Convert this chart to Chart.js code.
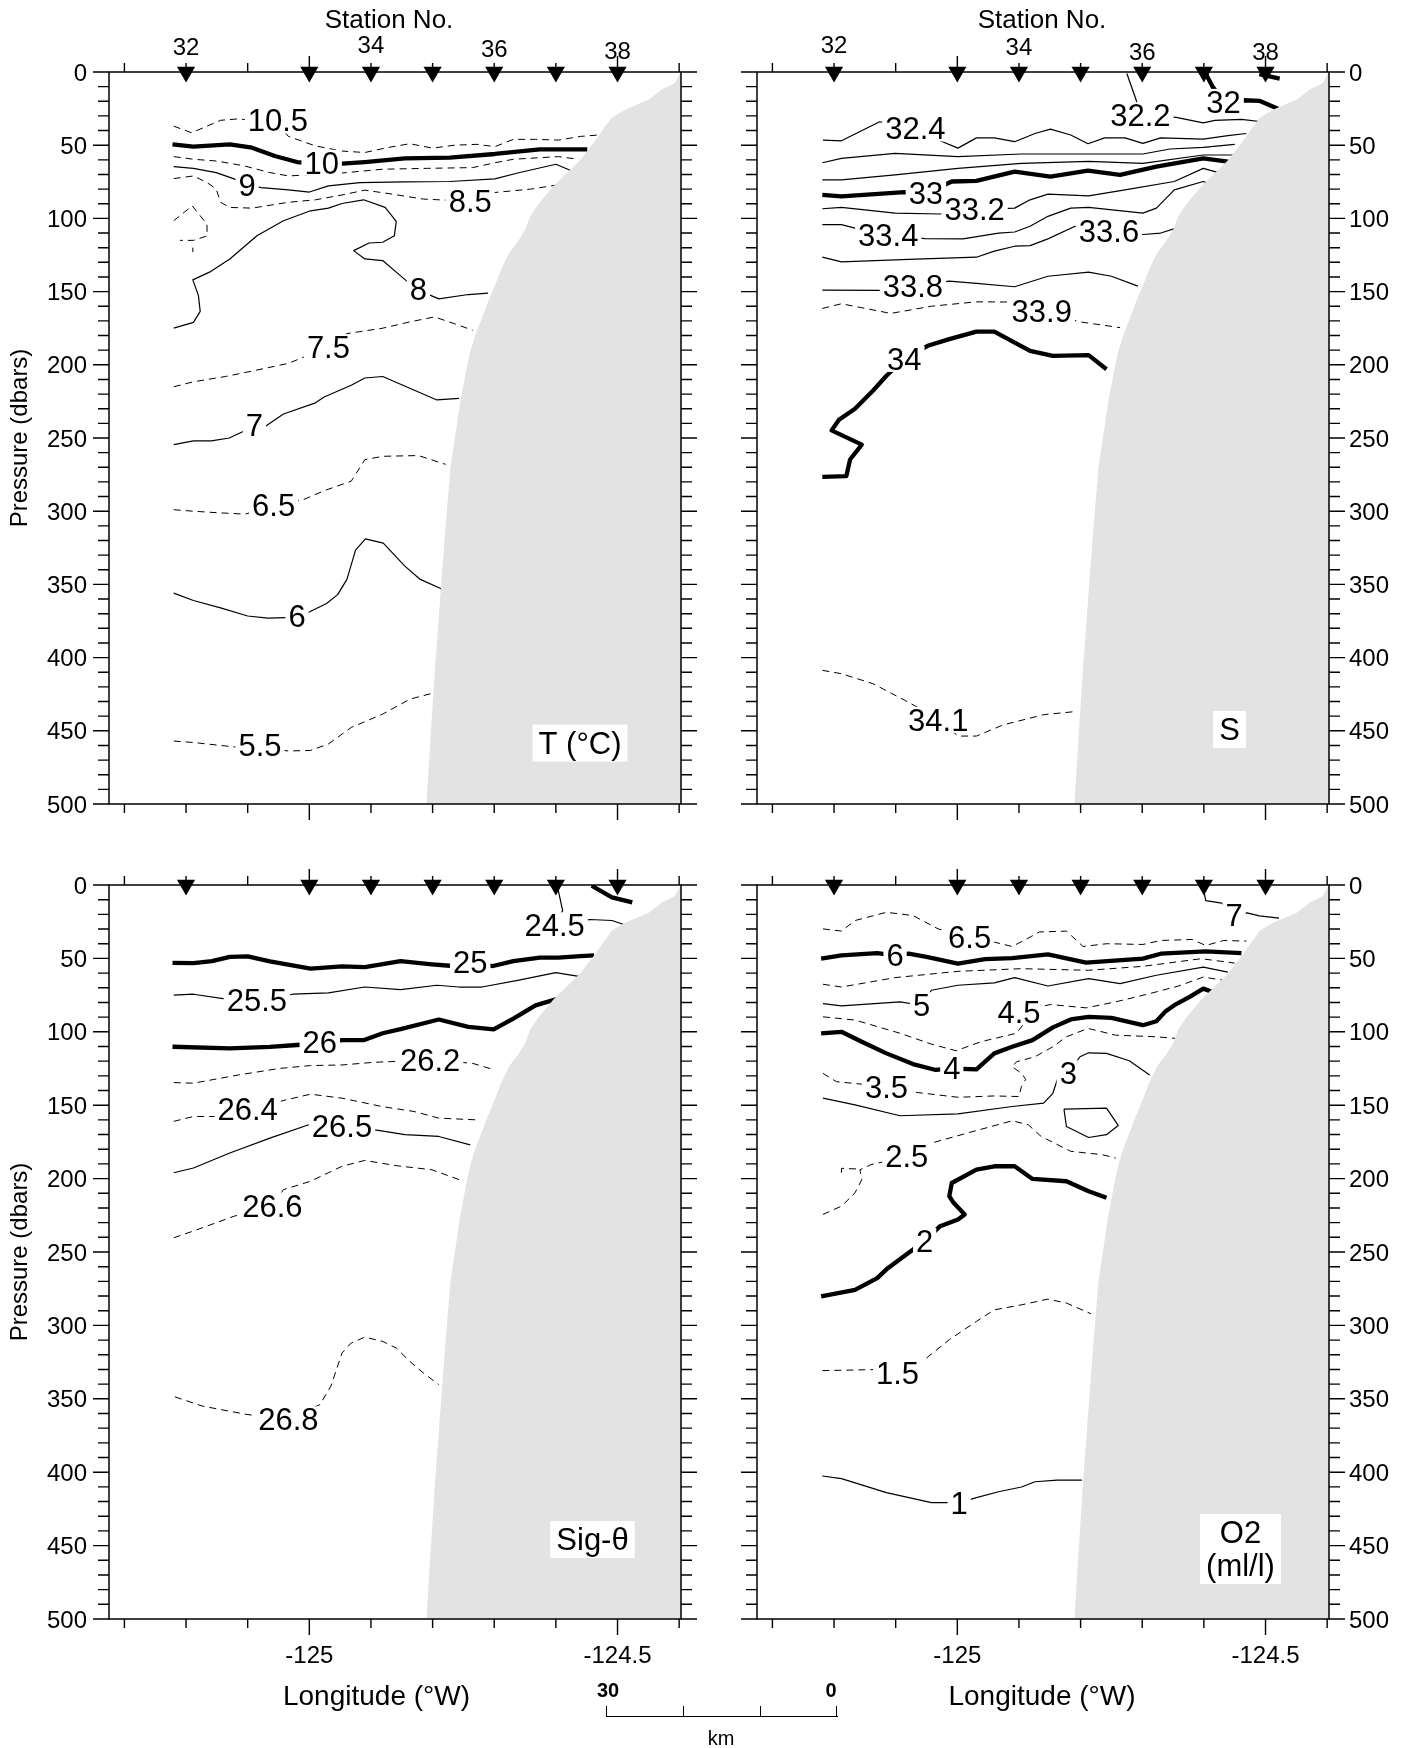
<!DOCTYPE html>
<html>
<head>
<meta charset="utf-8">
<title>Hydrographic section</title>
<script src="https://cdn.jsdelivr.net/npm/chart.js@4.4.1/dist/chart.umd.min.js"></script>
<style>
  body { margin: 0; background: #fff; width: 1411px; height: 1748px; position: relative; overflow: hidden;
         font-family: "Liberation Sans", Arial, Helvetica, sans-serif; }
  canvas { position: absolute; }
  .ln { position: absolute; background: #000; }
  .tx { position: absolute; transform: translate(-50%, -50%); line-height: 1; white-space: nowrap; }
</style>
</head>
<body>
<canvas id="cTemp" width="718" height="845" style="left:0;top:0"></canvas>
<canvas id="cSal"  width="693" height="845" style="left:718px;top:0"></canvas>
<canvas id="cSig"  width="718" height="903" style="left:0;top:845px"></canvas>
<canvas id="cOxy"  width="693" height="903" style="left:718px;top:845px"></canvas>

<!-- km scale bar -->
<div class="tx" style="left:608px;top:1690px;font-weight:bold;font-size:20px">30</div>
<div class="tx" style="left:831px;top:1690px;font-weight:bold;font-size:20px">0</div>
<div class="ln" style="left:606px;top:1716px;width:232px;height:1.4px"></div>
<div class="ln" style="left:606px;top:1706px;width:1.4px;height:11px"></div>
<div class="ln" style="left:683px;top:1706px;width:1.4px;height:11px"></div>
<div class="ln" style="left:760px;top:1706px;width:1.4px;height:11px"></div>
<div class="ln" style="left:836px;top:1706px;width:1.4px;height:11px"></div>
<div class="tx" style="left:721px;top:1738px;font-size:20px">km</div>

<script>
const FONT = '"Liberation Sans", Arial, Helvetica, sans-serif';

// ── Axes ─────────────────────────────────────
const LON_MIN = -125.325, LON_MAX = -124.397;
const lonTicks = [-125.3, -125.2, -125.1, -125.0, -124.9, -124.8, -124.7, -124.6, -124.5, -124.4];
const lonMajor = [-125.0, -124.5];
const lonMajorText = ['-125', '-124.5'];
const pressureTicks = [0, 50, 100, 150, 200, 250, 300, 350, 400, 450, 500];

// ── Stations ─────────────────────────────────
const stationLon = [-125.2, -125.0, -124.9, -124.8, -124.7, -124.6, -124.5];
const stationLabelLon = [-125.2, -124.9, -124.7, -124.5];
const stationLabelText = ['32', '34', '36', '38'];

// ── Bottom (shelf / slope), lon vs dbar ──────
const bottomProfile = [
  [-124.81, 500], [-124.803, 452], [-124.796, 407], [-124.788, 361], [-124.78, 316], [-124.771, 270],
  [-124.755, 225], [-124.747, 207], [-124.739, 191], [-124.731, 180], [-124.72, 168], [-124.71, 157],
  [-124.699, 146], [-124.688, 134], [-124.675, 123], [-124.662, 116], [-124.65, 108], [-124.641, 98],
  [-124.626, 89], [-124.604, 78], [-124.582, 69], [-124.56, 60], [-124.538, 48], [-124.523, 39],
  [-124.509, 31], [-124.487, 25.6], [-124.45, 19], [-124.428, 12], [-124.407, 7.5], [-124.399, 1],
  [-124.397, 0]
];

// ── Temperature (°C) ─────────────────────────
const tempContours = [
  { level: '10.5', pts: [[-125.22,37],[-125.191,41.5],[-125.166,37],[-125.144,33],[-125.115,32],[-125.051,35],[-125.034,44],[-124.99,50.5],[-124.947,54],[-124.91,55],[-124.874,51.7],[-124.837,49],[-124.8,52],[-124.764,50],[-124.728,49.4],[-124.699,51],[-124.669,46],[-124.633,46],[-124.596,46.5],[-124.56,44],[-124.53,43]] },
  { level: '10', pts: [[-125.222,49.4],[-125.188,51],[-125.129,49.4],[-125.093,51.7],[-125.056,57.4],[-125.02,61.5],[-124.98,63],[-124.947,62.6],[-124.91,61.5],[-124.845,59],[-124.772,58.5],[-124.699,56],[-124.626,52.8],[-124.549,52.8]] },
  { level: '9.5', pts: [[-125.22,57.8],[-125.188,59.6],[-125.151,60.8],[-125.107,64],[-125.064,68.7],[-125.034,71],[-124.99,70],[-124.947,69],[-124.881,66.4],[-124.808,65.8],[-124.735,65.3],[-124.699,62],[-124.669,59.6],[-124.596,57.8],[-124.563,59.6]] },
  { level: '9', pts: [[-125.22,64.6],[-125.188,65.8],[-125.151,68.7],[-125.122,73],[-125.101,77],[-125.078,79],[-125.034,80.5],[-125.0,82],[-124.969,77.8],[-124.918,75.5],[-124.845,75],[-124.772,74.8],[-124.699,73],[-124.662,69],[-124.6,63],[-124.574,67.6]] },
  { level: '8.5', pts: [[-125.22,72.8],[-125.188,71],[-125.166,75.5],[-125.151,80],[-125.144,89],[-125.129,92.5],[-125.093,93],[-125.034,89],[-124.99,87.3],[-124.947,84],[-124.91,80.7],[-124.866,83.4],[-124.815,86.8],[-124.779,87.5],[-124.739,88],[-124.699,82.3],[-124.641,80],[-124.6,77.3]] },
  { level: '8.5', pts: [[-125.22,101.6],[-125.19,91.4],[-125.166,104],[-125.166,112],[-125.188,115],[-125.21,115]] },
  { level: '8.5', pts: [[-125.189,120],[-125.189,123]] },
  { level: '8', pts: [[-125.22,175],[-125.188,171],[-125.177,163.5],[-125.18,152.6],[-125.189,142],[-125.162,136.7],[-125.129,127.7],[-125.085,111.8],[-125.042,101.6],[-124.998,94.8],[-124.969,93],[-124.947,89.8],[-124.912,87.3],[-124.877,92.5],[-124.859,102],[-124.862,111.8],[-124.881,116.3],[-124.903,116.8],[-124.928,122],[-124.91,127.7],[-124.881,128.8],[-124.859,136.7],[-124.84,143.5],[-124.823,149],[-124.79,155],[-124.742,152],[-124.71,151]] },
  { level: '7.5', pts: [[-125.22,215],[-125.188,211.6],[-125.136,208],[-125.085,203.6],[-125.034,199],[-124.969,188],[-124.939,178.7],[-124.881,175],[-124.837,170.7],[-124.797,167.3],[-124.764,172],[-124.735,176.4]] },
  { level: '7', pts: [[-125.22,254.5],[-125.188,252],[-125.159,252],[-125.13,250],[-125.089,242],[-125.071,242],[-125.042,233.6],[-124.99,226],[-124.976,222],[-124.932,214],[-124.91,209],[-124.881,208],[-124.837,216],[-124.793,224],[-124.757,223]] },
  { level: '6.5', pts: [[-125.22,299],[-125.188,300],[-125.151,301],[-125.104,302],[-125.058,296.6],[-125.009,292],[-124.976,286],[-124.932,279.5],[-124.91,264.8],[-124.881,262.5],[-124.823,262],[-124.779,268]] },
  { level: '6', pts: [[-125.22,356],[-125.188,361],[-125.144,366],[-125.1,371.6],[-125.067,373],[-125.038,372.7],[-125.02,372.7],[-125.001,369],[-124.972,363],[-124.954,357],[-124.939,346.6],[-124.925,326.6],[-124.909,318.9],[-124.88,321.8],[-124.845,337.5],[-124.82,346.6],[-124.786,353]] },
  { level: '5.5', pts: [[-125.22,457],[-125.188,458],[-125.122,461],[-125.08,461.4],[-125.034,463.8],[-124.998,463.4],[-124.969,459],[-124.932,447.7],[-124.881,438.6],[-124.837,428.4],[-124.797,424]] }
];
const tempLabels = [
  ['10.5', -125.051, 33], ['10', -124.98, 62], ['9', -125.101, 77], ['8.5', -124.739, 88],
  ['8', -124.823, 148], ['7.5', -124.969, 188], ['7', -125.089, 241], ['6.5', -125.058, 295.5],
  ['6', -125.02, 371.5], ['5.5', -125.08, 460]
];

// ── Salinity ─────────────────────────────────
const salContours = [
  { level: '32.2', pts: [[-124.725,1],[-124.71,19],[-124.703,29.5],[-124.645,31],[-124.601,34.7],[-124.582,33],[-124.539,32.4],[-124.506,34]] },
  { level: '32', pts: [[-124.597,1],[-124.586,10],[-124.568,20.4],[-124.535,19.3],[-124.51,19.7],[-124.477,25.6]] },
  { level: '32', pts: [[-124.51,1.5],[-124.477,4.5]] },
  { level: '32.4', pts: [[-125.218,46.5],[-125.188,47],[-125.126,34],[-125.068,38.5],[-125.024,47.6],[-124.999,52],[-124.969,45],[-124.94,45],[-124.907,47.6],[-124.874,42],[-124.849,39],[-124.816,43],[-124.788,49],[-124.761,45],[-124.728,45],[-124.699,48.8],[-124.67,45],[-124.601,45.8],[-124.561,43.5],[-124.531,42]] },
  { level: '32.6', pts: [[-125.219,62],[-125.188,59],[-125.101,55.6],[-124.999,57.8],[-124.896,56],[-124.787,56],[-124.699,56],[-124.655,52.6],[-124.601,51.5],[-124.55,49.4]] },
  { level: '32.8', pts: [[-125.219,73.7],[-125.188,73.7],[-125.101,70.3],[-124.999,65.8],[-124.896,62.4],[-124.787,61],[-124.699,62.4],[-124.601,56.7],[-124.553,56.7]] },
  { level: '33', pts: [[-125.219,84],[-125.188,85],[-125.086,82],[-125.051,83],[-125.009,74.8],[-124.969,74.4],[-124.907,68],[-124.849,71.4],[-124.788,67.3],[-124.736,70.3],[-124.677,64.6],[-124.601,59],[-124.561,61.2]] },
  { level: '33.2', pts: [[-125.219,93.4],[-125.188,92.5],[-125.101,96.4],[-125.028,97],[-124.97,94],[-124.907,93],[-124.882,87.3],[-124.853,83.4],[-124.787,84.6],[-124.728,80.5],[-124.648,74.8],[-124.601,65.8],[-124.572,69.2]] },
  { level: '33.4', pts: [[-125.219,104.3],[-125.188,104.3],[-125.166,106.6],[-125.112,111],[-125.053,113.8],[-124.991,114],[-124.933,110],[-124.907,109.3],[-124.882,105.4],[-124.853,98.6],[-124.816,93],[-124.787,92.5],[-124.699,96.4],[-124.677,93],[-124.648,80.5],[-124.601,74.8],[-124.586,77]] },
  { level: '33.6', pts: [[-125.219,126.5],[-125.188,129.7],[-125.079,128],[-124.969,126.5],[-124.94,122.4],[-124.907,119],[-124.882,118.6],[-124.853,114],[-124.809,105.4],[-124.754,108.8],[-124.699,111],[-124.67,110],[-124.645,106.6]] },
  { level: '33.8', pts: [[-125.219,149],[-125.126,149.2],[-125.072,146.3],[-125.013,142.9],[-124.969,144.4],[-124.907,146.7],[-124.853,139.5],[-124.787,136.7],[-124.75,139.5],[-124.707,146.3]] },
  { level: '33.9', pts: [[-125.219,161.5],[-125.188,158.3],[-125.108,164.9],[-125.042,160],[-124.969,157],[-124.918,157.1],[-124.863,163.5],[-124.801,170.7],[-124.736,174.6]] },
  { level: '34', pts: [[-124.758,203],[-124.787,193.4],[-124.845,193.9],[-124.882,190.5],[-124.94,177.3],[-124.969,177.3],[-125.013,182.5],[-125.048,187],[-125.086,196],[-125.115,207.5],[-125.137,217.7],[-125.166,230],[-125.192,237.5],[-125.204,244.8],[-125.155,254.5],[-125.174,264.7],[-125.18,276],[-125.219,276.5]] },
  { level: '34.1', pts: [[-125.219,408.7],[-125.188,411],[-125.137,417.8],[-125.086,429],[-125.031,441.6],[-124.999,453.6],[-124.969,453.6],[-124.926,446],[-124.86,439],[-124.812,437]] }
];
const salLabels = [
  ['32.2', -124.703, 29.5], ['32', -124.568, 20.4], ['32.4', -125.068, 38.5], ['33', -125.051, 82.5],
  ['33.2', -124.972, 93.5], ['33.4', -125.112, 111.5], ['33.6', -124.754, 108.8], ['33.8', -125.072, 146.3],
  ['33.9', -124.863, 163.5], ['34', -125.086, 196], ['34.1', -125.031, 442.5]
];

// ── Sigma-theta ──────────────────────────────
const sigContours = [
  { level: '24', pts: [[-124.542,0.5],[-124.509,8.4],[-124.476,11.8]] },
  { level: '24.5', pts: [[-124.596,3.8],[-124.589,17.4],[-124.602,28.3],[-124.545,23.5],[-124.509,24.2],[-124.485,27.6]] },
  { level: '25', pts: [[-125.222,53],[-125.188,53.2],[-125.158,51.8],[-125.129,49],[-125.1,48.6],[-125.064,52],[-124.998,57],[-124.947,55.4],[-124.91,55.9],[-124.852,51.8],[-124.801,54],[-124.772,55],[-124.739,53.2],[-124.702,55.2],[-124.669,51.8],[-124.626,49.5],[-124.596,49.5],[-124.56,48.4],[-124.538,48]] },
  { level: '25.5', pts: [[-125.22,75],[-125.188,74.4],[-125.14,77.4],[-125.085,78.5],[-125.027,74.4],[-124.969,73.5],[-124.91,69.5],[-124.852,71.3],[-124.793,68.3],[-124.757,69.5],[-124.72,69.5],[-124.662,65],[-124.6,59.7],[-124.563,62.2]] },
  { level: '26', pts: [[-125.222,110.2],[-125.129,111.3],[-125.064,110.2],[-125.02,109],[-124.983,108],[-124.947,105.7],[-124.912,105.7],[-124.881,101],[-124.852,98.2],[-124.79,91.6],[-124.742,96.6],[-124.701,98.4],[-124.669,91],[-124.633,82],[-124.596,77.4]] },
  { level: '26.2', pts: [[-125.22,134.6],[-125.188,135],[-125.115,129.4],[-125.049,125],[-124.998,123],[-124.947,122.6],[-124.896,120.8],[-124.804,119.2],[-124.735,121.5],[-124.699,126]] },
  { level: '26.4', pts: [[-125.22,161],[-125.188,157.7],[-125.155,157.7],[-125.1,153.2],[-125.038,146.4],[-124.998,142.5],[-124.947,145.2],[-124.881,151],[-124.83,154.3],[-124.79,158.8],[-124.728,160]] },
  { level: '26.5', pts: [[-125.22,196],[-125.188,192.8],[-125.129,182.6],[-125.064,172.4],[-125.001,163.3],[-124.947,164.5],[-124.888,167.2],[-124.845,170.1],[-124.79,171.3],[-124.739,177]] },
  { level: '26.6', pts: [[-125.22,240.3],[-125.188,235.7],[-125.122,225.6],[-125.06,218.8],[-125.042,207.5],[-124.998,201.8],[-124.947,191.6],[-124.91,187.6],[-124.859,191.2],[-124.801,194],[-124.757,200.7]] },
  { level: '26.8', pts: [[-125.218,348.7],[-125.173,355],[-125.101,360.7],[-125.034,364.1],[-124.983,354],[-124.965,341.4],[-124.947,318.8],[-124.932,312],[-124.91,308],[-124.881,310.9],[-124.859,315.4],[-124.837,324.5],[-124.815,332.4],[-124.79,340.3]] }
];
const sigLabels = [
  ['24.5', -124.602, 27.5], ['25', -124.739, 52.5], ['25.5', -125.085, 78], ['26', -124.983, 107],
  ['26.2', -124.804, 119], ['26.4', -125.1, 152.5], ['26.5', -124.947, 164], ['26.6', -125.06, 218.5],
  ['26.8', -125.034, 364]
];

// ── Oxygen (ml/l) ────────────────────────────
const oxyContours = [
  { level: '7', pts: [[-124.599,6],[-124.597,10.6],[-124.571,12.3],[-124.551,20.5],[-124.53,19],[-124.51,21],[-124.478,22.5]] },
  { level: '6.5', pts: [[-125.218,29.9],[-125.188,31.4],[-125.166,24.2],[-125.115,18.6],[-125.072,20.8],[-125.031,29.9],[-124.98,35.5],[-124.94,38.9],[-124.911,41.9],[-124.882,35.5],[-124.867,32],[-124.823,31.4],[-124.796,41.9],[-124.758,40],[-124.699,40.5],[-124.67,37.8],[-124.619,37.1],[-124.597,41.2],[-124.568,37.8],[-124.531,38.2]] },
  { level: '6', pts: [[-125.221,50.2],[-125.188,48],[-125.13,46.4],[-125.101,48],[-125.079,46.8],[-125.05,49],[-124.999,53.6],[-124.955,50.5],[-124.911,49.8],[-124.853,47.3],[-124.791,52.9],[-124.699,50.2],[-124.67,46.8],[-124.597,45.2],[-124.539,46.4]] },
  { level: '5.5', pts: [[-125.218,67.6],[-125.188,69.5],[-125.101,63.1],[-124.999,58.8],[-124.896,57],[-124.787,58.1],[-124.699,55.4],[-124.604,50.2],[-124.55,53.2]] },
  { level: '5', pts: [[-125.218,80.8],[-125.188,82.4],[-125.093,79.6],[-125.058,81.9],[-125.042,71.7],[-124.999,68.3],[-124.94,66.7],[-124.907,63.1],[-124.853,68.8],[-124.787,63.8],[-124.736,67.2],[-124.677,61.5],[-124.601,55.9],[-124.561,59.3]] },
  { level: '4.5', pts: [[-125.218,89.8],[-125.166,92],[-125.093,101],[-125.042,108.4],[-125.002,112.9],[-124.962,106.8],[-124.904,101],[-124.893,95],[-124.9,86.4],[-124.849,81.4],[-124.791,83.7],[-124.743,79.6],[-124.688,74],[-124.641,68.8],[-124.601,62.7],[-124.568,64.9]] },
  { level: '4', pts: [[-125.221,101.1],[-125.188,100],[-125.155,106.8],[-125.115,114.7],[-125.072,122],[-125.035,126],[-125.009,125],[-124.969,125.6],[-124.94,114.7],[-124.911,110.2],[-124.878,105.7],[-124.845,97],[-124.816,91.6],[-124.787,89.8],[-124.75,90.5],[-124.699,95.5],[-124.677,92.8],[-124.663,86.4],[-124.648,81.9],[-124.623,76.2],[-124.601,70.6],[-124.586,72.9]] },
  { level: '3.5', pts: [[-125.218,128.3],[-125.196,134],[-125.115,137.3],[-125.064,141.4],[-124.999,144.6],[-124.94,143.7],[-124.9,144.1],[-124.896,137.3],[-124.889,132.4],[-124.896,128.3],[-124.911,123.8],[-124.904,120.4],[-124.874,117],[-124.845,110.2],[-124.823,103.4],[-124.788,97.7],[-124.743,102.3],[-124.677,103.4],[-124.645,104.5]] },
  { level: '3', pts: [[-125.218,145.2],[-125.166,149.8],[-125.093,157.2],[-124.999,155.9],[-124.911,150.9],[-124.86,148.6],[-124.845,141.9],[-124.838,132.8],[-124.82,128.3],[-124.801,117],[-124.787,114.3],[-124.758,114.7],[-124.721,119.7],[-124.688,129.4]] },
  { level: '3', pts: [[-124.827,152.7],[-124.758,152],[-124.739,163.8],[-124.758,170.1],[-124.787,172],[-124.823,164.5],[-124.827,152.7]] },
  { level: '2.5', pts: [[-125.218,224.4],[-125.188,218.8],[-125.166,209.7],[-125.155,200.7],[-125.158,194],[-125.14,190.5],[-125.082,184.8],[-125.042,175.8],[-124.984,169],[-124.911,160.6],[-124.885,163.3],[-124.864,171.3],[-124.816,181.4],[-124.765,183.7],[-124.743,186]] },
  { level: '2.5', pts: [[-125.188,196],[-125.188,193],[-125.16,193.5]] },
  { level: '2', pts: [[-124.758,213.1],[-124.787,208.6],[-124.823,201.8],[-124.878,200.2],[-124.907,191.6],[-124.94,191.6],[-124.969,193.9],[-125.009,203],[-125.013,212],[-125.006,216.5],[-124.988,224.4],[-124.999,227.8],[-125.028,232.4],[-125.053,242.5],[-125.086,252.7],[-125.115,261.8],[-125.13,267.8],[-125.166,275.8],[-125.221,280.3]] },
  { level: '1.5', pts: [[-125.219,330.8],[-125.134,330.1],[-125.097,332.4],[-125.05,322.2],[-125.013,309.7],[-124.969,297.3],[-124.94,289.4],[-124.896,286],[-124.853,282.1],[-124.823,284.8],[-124.783,292.1]] },
  { level: '1', pts: [[-125.219,402.6],[-125.188,404.4],[-125.115,413.9],[-125.042,420.7],[-124.997,420.7],[-124.969,417.3],[-124.933,413.3],[-124.896,410.1],[-124.874,406.5],[-124.838,405.4],[-124.798,405.4]] }
];
const oxyLabels = [
  ['7', -124.551, 20.5], ['6.5', -124.98, 35.5], ['6', -125.101, 48], ['5', -125.058, 81.9],
  ['4.5', -124.9, 86.4], ['4', -125.009, 124.9], ['3.5', -125.115, 137.3], ['3', -124.82, 128.3],
  ['2.5', -125.082, 184.8], ['2', -125.053, 242.5], ['1.5', -125.097, 332.4], ['1', -124.997, 420.7]
];

// ── Line style per contour level ─────────────
const isHalf = (lv) => Math.abs(parseFloat(lv) * 2 % 2 - 1) < 1e-6;
const isInt  = (lv) => Number.isInteger(parseFloat(lv));
const tempStyle = (lv) => lv === '10' ? 'thick' : (isHalf(lv) ? 'dash' : 'thin');
const salStyle  = (lv) => isInt(lv) ? 'thick' : (['33.9', '34.1'].includes(lv) ? 'dash' : 'thin');
const sigStyle  = (lv) => isInt(lv) ? 'thick' : (isHalf(lv) ? 'thin' : 'dash');
const oxyStyle  = (lv) => isInt(lv) ? (parseFloat(lv) % 2 === 0 ? 'thick' : 'thin') : 'dash';

// ── Frame, ticks and text drawn over the datasets ──
function sectionPlugin(cfg) {
  return {
    id: 'section',
    afterDatasetsDraw(chart) {
      const ctx = chart.ctx, a = chart.chartArea;
      const xs = chart.scales.x, ys = chart.scales.y;
      ctx.save();
      ctx.fillStyle = '#000';
      ctx.strokeStyle = '#000';

      // contour labels (white gap under the number)
      ctx.font = `31px ${FONT}`;
      ctx.textAlign = 'center';
      ctx.textBaseline = 'alphabetic';
      cfg.labels.forEach(([t, lon, p]) => {
        const x = xs.getPixelForValue(lon), y = ys.getPixelForValue(p);
        const w = ctx.measureText(t).width;
        ctx.fillStyle = '#fff';
        ctx.fillRect(x - w / 2 - 3, y - 13, w + 6, 26);
        ctx.fillStyle = '#000';
        ctx.fillText(t, x, y + 11);
      });

      // panel tag
      ctx.font = `31px ${FONT}`;
      const tw = Math.max(...cfg.tag.lines.map(s => ctx.measureText(s).width));
      const th = cfg.tag.lines.length * 33 + 4;
      const tcx = a.right - cfg.tag.dx, tcy = a.bottom - cfg.tag.dy;
      ctx.fillStyle = '#fff';
      ctx.fillRect(tcx - tw / 2 - 6, tcy - th / 2, tw + 12, th);
      ctx.fillStyle = '#000';
      cfg.tag.lines.forEach((s, i) => {
        ctx.fillText(s, tcx, tcy - th / 2 + 2 + 33 * i + 27);
      });

      // frame
      ctx.lineWidth = 1.5;
      ctx.strokeRect(a.left, a.top, a.right - a.left, a.bottom - a.top);

      // ticks
      ctx.lineWidth = 1.4;
      ctx.beginPath();
      for (let p = 0; p <= 500; p += 10) {
        const y = ys.getPixelForValue(p);
        const len = p % 50 === 0 ? 16 : 11;
        ctx.moveTo(a.left - len, y); ctx.lineTo(a.left, y);
        ctx.moveTo(a.right, y); ctx.lineTo(a.right + len, y);
      }
      lonTicks.forEach(lon => {
        const x = xs.getPixelForValue(lon);
        const len = lonMajor.includes(lon) ? 16 : 9;
        ctx.moveTo(x, a.top); ctx.lineTo(x, a.top - len);
        ctx.moveTo(x, a.bottom); ctx.lineTo(x, a.bottom + len);
      });
      ctx.stroke();

      // pressure labels
      ctx.font = `24px ${FONT}`;
      ctx.textAlign = cfg.side === 'left' ? 'right' : 'left';
      pressureTicks.forEach(p => {
        const y = ys.getPixelForValue(p) + 8.5;
        const x = cfg.side === 'left' ? a.left - 22 : a.right + 20;
        ctx.fillText(String(p), x, y);
      });

      // longitude labels and title (bottom row)
      if (cfg.bottomRow) {
        ctx.textAlign = 'center';
        ctx.font = `24px ${FONT}`;
        lonMajor.forEach((lon, i) => ctx.fillText(lonMajorText[i], xs.getPixelForValue(lon), a.bottom + 44));
        ctx.font = `28px ${FONT}`;
        ctx.fillText('Longitude (°W)', (a.left + a.right) / 2 + cfg.titleShift, a.bottom + 86);
      }

      // station numbers (top row)
      if (cfg.topRow) {
        ctx.textAlign = 'center';
        ctx.font = `24px ${FONT}`;
        stationLabelLon.forEach((lon, i) => ctx.fillText(stationLabelText[i], xs.getPixelForValue(lon), cfg.stationBase[i]));
        ctx.font = `26px ${FONT}`;
        ctx.fillText('Station No.', (a.left + a.right) / 2 + cfg.titleShift, 28);
      }

      // pressure title
      if (cfg.side === 'left') {
        ctx.save();
        ctx.translate(27, (a.top + a.bottom) / 2);
        ctx.rotate(-Math.PI / 2);
        ctx.textAlign = 'center';
        ctx.font = `24px ${FONT}`;
        ctx.fillText('Pressure (dbars)', 0, 0);
        ctx.restore();
      }
      ctx.restore();
    }
  };
}

function makeSection(canvasId, cfg) {
  const datasets = [{
    label: 'bottom',
    data: bottomProfile.map(([x, y]) => ({ x, y })),
    showLine: true,
    borderColor: 'rgba(0,0,0,0)',
    borderWidth: 1,
    backgroundColor: '#e3e3e3',
    pointRadius: 0,
    fill: { value: 500 }
  }];
  cfg.contours.forEach(c => {
    const st = cfg.styleOf(c.level);
    datasets.push({
      label: c.level,
      data: c.pts.map(([x, y]) => ({ x, y })),
      showLine: true,
      borderColor: '#000',
      borderWidth: st === 'thick' ? 4.3 : (st === 'dash' ? 1 : 1.2),
      borderDash: st === 'dash' ? [7, 5] : [],
      borderJoinStyle: 'round',
      pointRadius: 0,
      fill: false,
      tension: 0
    });
  });
  datasets.push({
    label: 'stations',
    data: stationLon.map(x => ({ x, y: 0 })),
    showLine: false,
    pointStyle: 'triangle',
    pointRotation: 180,
    pointRadius: 10.5,
    pointBackgroundColor: '#000',
    pointBorderColor: '#000',
    pointBorderWidth: 0,
    clip: false
  });

  return new Chart(document.getElementById(canvasId), {
    type: 'scatter',
    data: { datasets },
    options: {
      responsive: false,
      animation: false,
      devicePixelRatio: 1,
      events: [],
      layout: { padding: cfg.pad },
      scales: {
        x: { type: 'linear', min: LON_MIN, max: LON_MAX, display: false },
        y: { type: 'linear', min: 0, max: 500, reverse: true, display: false }
      },
      plugins: { legend: { display: false }, tooltip: { enabled: false } }
    },
    plugins: [sectionPlugin(cfg)]
  });
}

makeSection('cTemp', {
  contours: tempContours, labels: tempLabels, styleOf: tempStyle, side: 'left',
  topRow: true, stationBase: [55, 53, 57, 59], titleShift: -6,
  tag: { lines: ['T (°C)'], dx: 101, dy: 61 },
  pad: { left: 109, right: 37, top: 72, bottom: 41 }
});
makeSection('cSal', {
  contours: salContours, labels: salLabels, styleOf: salStyle, side: 'right',
  topRow: true, stationBase: [53, 55, 60, 60], titleShift: -1,
  tag: { lines: ['S'], dx: 99.5, dy: 74.5 },
  pad: { left: 39, right: 82, top: 72, bottom: 41 }
});
makeSection('cSig', {
  contours: sigContours, labels: sigLabels, styleOf: sigStyle, side: 'left',
  bottomRow: true, titleShift: -18.5,
  tag: { lines: ['Sig-θ'], dx: 88.5, dy: 79.5 },
  pad: { left: 109, right: 37, top: 40, bottom: 129 }
});
makeSection('cOxy', {
  contours: oxyContours, labels: oxyLabels, styleOf: oxyStyle, side: 'right',
  bottomRow: true, titleShift: -1,
  tag: { lines: ['O2', '(ml/l)'], dx: 88.5, dy: 70 },
  pad: { left: 39, right: 82, top: 40, bottom: 129 }
});
</script>
</body>
</html>
